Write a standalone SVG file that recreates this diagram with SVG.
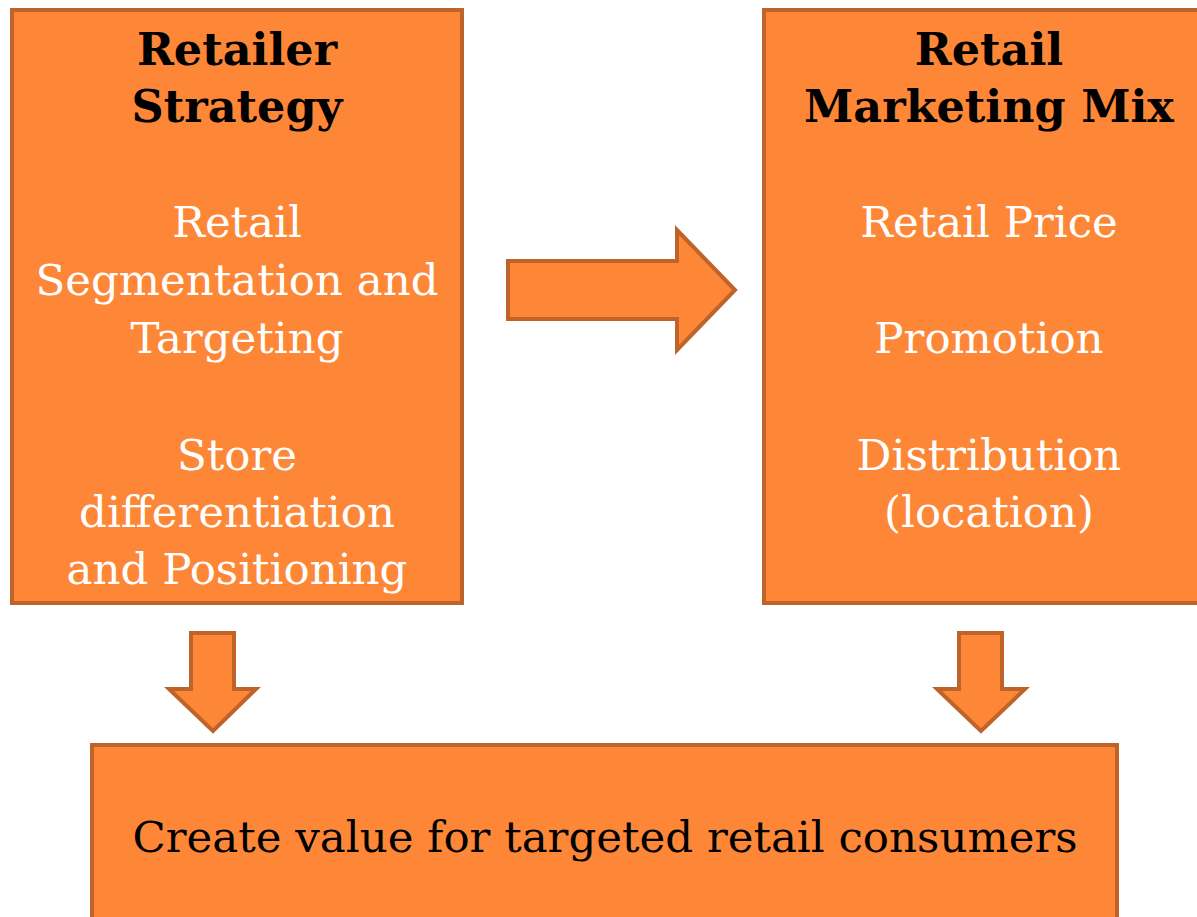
<svg xmlns="http://www.w3.org/2000/svg" width="1197" height="917" viewBox="0 0 1197 917">
  <style>
    .box { fill: #FD8737; stroke: #BE6329; stroke-width: 4; }
    .arrow { fill: #FD8737; stroke: #BE6329; stroke-width: 4; stroke-linejoin: miter; }
    text { font-family: "DejaVu Serif", "Liberation Serif", serif; font-size: 43.5px; text-anchor: middle; }
    .title { font-weight: bold; font-size: 44.5px; fill: #000000; }
    .item { fill: #FFFFFF; }
    .dark { fill: #000000; }
  </style>
  <rect width="1197" height="917" fill="#FFFFFF"/>

  <g id="retailer-strategy">
    <rect class="box" x="12" y="10" width="450" height="593"/>
    <text class="title" x="237" y="65">Retailer</text>
    <text class="title" x="237" y="122">Strategy</text>
    <text class="item" x="237" y="237">Retail</text>
    <text class="item" x="237" y="295">Segmentation and</text>
    <text class="item" x="237" y="353">Targeting</text>
    <text class="item" x="237" y="470">Store</text>
    <text class="item" x="237" y="527">differentiation</text>
    <text class="item" x="237" y="584">and Positioning</text>
  </g>

  <g id="retail-marketing-mix">
    <rect class="box" x="764" y="10" width="450" height="593"/>
    <text class="title" x="989" y="65">Retail</text>
    <text class="title" x="989" y="122">Marketing Mix</text>
    <text class="item" x="989" y="237">Retail Price</text>
    <text class="item" x="989" y="353">Promotion</text>
    <text class="item" x="989" y="470">Distribution</text>
    <text class="item" x="989" y="527">(location)</text>
  </g>

  <g id="create-value">
    <rect class="box" x="92" y="745" width="1025" height="200"/>
    <text class="dark" x="605" y="852">Create value for targeted retail consumers</text>
  </g>

  <g id="connectors">
    <polygon class="arrow" points="508,261 677,261 677,230 735,290 677,350 677,319 508,319"/>
    <polygon class="arrow" points="191,633 234,633 234,689 256,689 213,731 169,689 191,689"/>
    <polygon class="arrow" points="959,633 1002,633 1002,689 1025,689 981,731 937,689 959,689"/>
  </g>
</svg>
